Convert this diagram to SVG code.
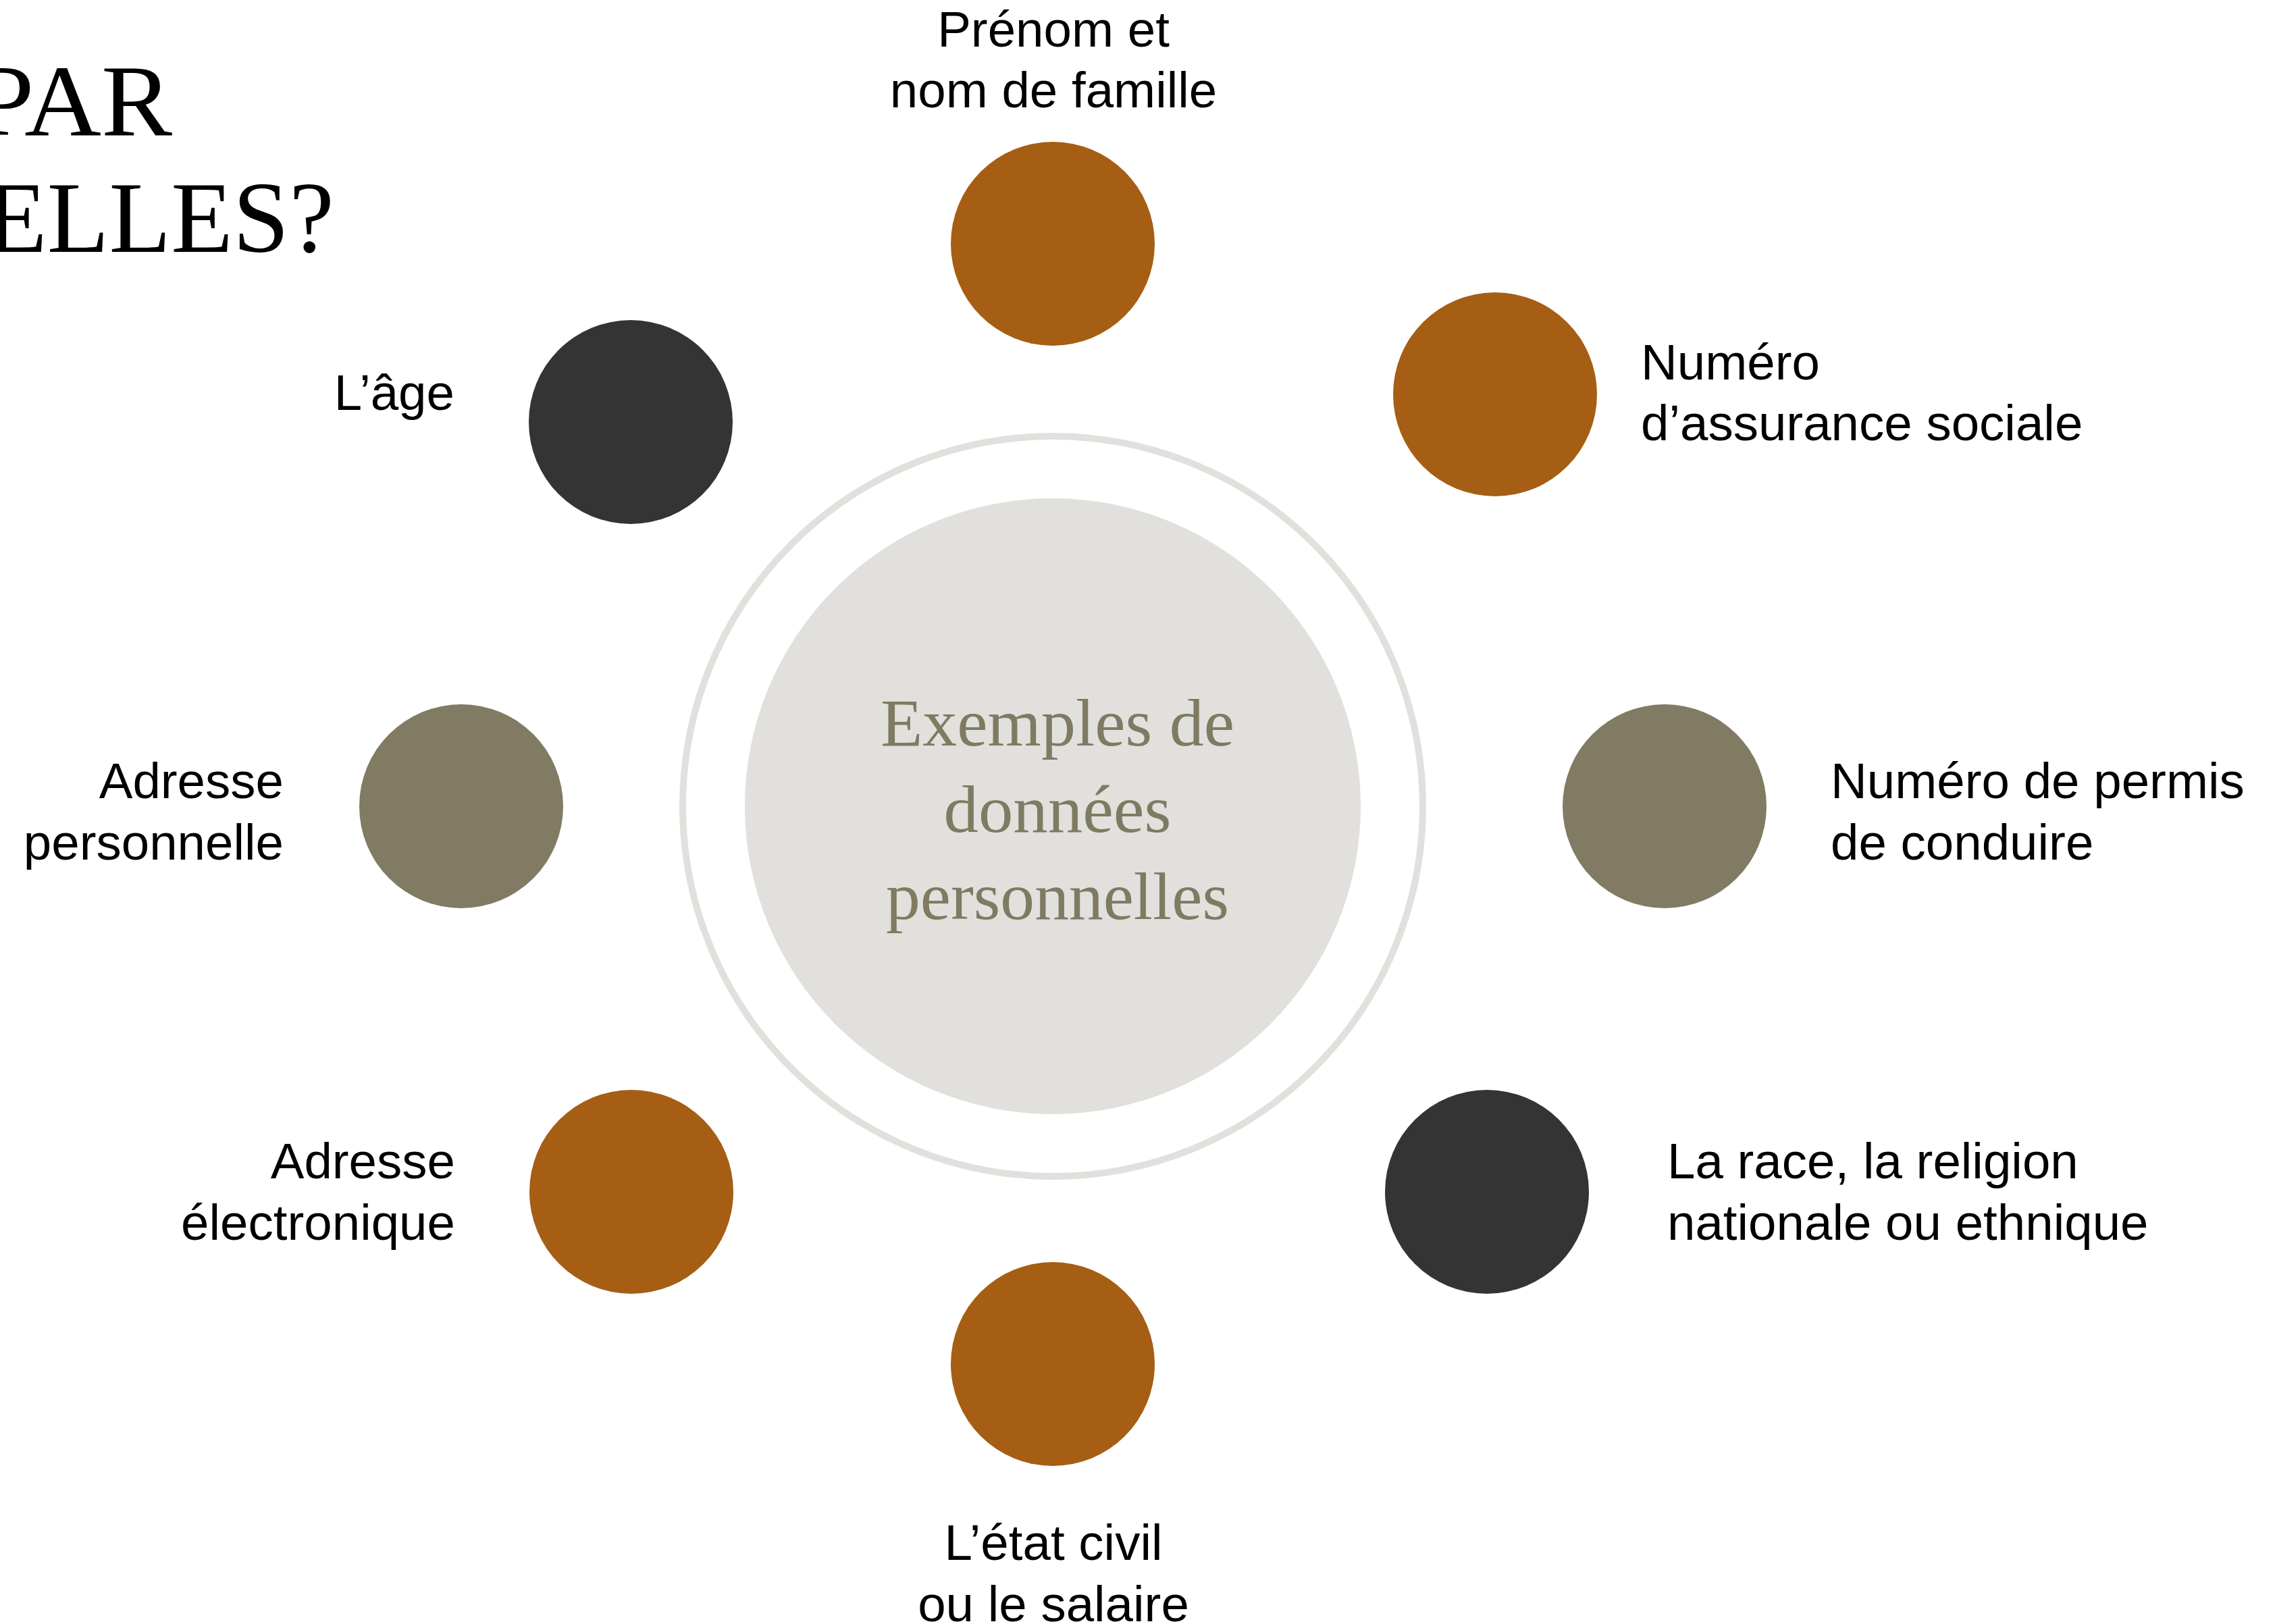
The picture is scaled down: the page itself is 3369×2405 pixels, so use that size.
<svg xmlns="http://www.w3.org/2000/svg" width="3369" height="2405" viewBox="0 0 3369 2405">
<style>
.lbl{font-family:"Liberation Sans",Arial,sans-serif;font-size:74.5px;fill:#000}
.title{font-family:"Liberation Serif","Times New Roman",serif;font-size:150px;fill:#000}
.ctr{font-family:"Liberation Serif","Times New Roman",serif;font-size:100px;fill:#7F7A62;text-anchor:middle}
.orange{fill:#A55E13}
.dark{fill:#343434}
.olive{fill:#807B62}
</style>
<rect width="3369" height="2405" fill="#FFFFFF"/>
<g id="title">
<text class="title" x="-37" y="200" textLength="292" lengthAdjust="spacingAndGlyphs">PAR</text>
<text class="title" x="-22" y="373" textLength="517" lengthAdjust="spacingAndGlyphs">ELLES?</text>
</g>
<g id="connectors"></g>
<g id="center">
<circle cx="1559" cy="1194" r="548" fill="none" stroke="#E1E0DC" stroke-width="10"/>
<circle cx="1559" cy="1194" r="456" fill="#E1E0DC"/>
<text class="ctr" x="1566" y="1104" textLength="524" lengthAdjust="spacingAndGlyphs">Exemples de</text>
<text class="ctr" x="1566" y="1232" textLength="337" lengthAdjust="spacingAndGlyphs">données</text>
<text class="ctr" x="1566" y="1361" textLength="508" lengthAdjust="spacingAndGlyphs">personnelles</text>
</g>
<g id="node-nom">
<circle class="orange" cx="1559" cy="361" r="151"/>
<text class="lbl" x="1560" y="69" text-anchor="middle">Prénom et</text>
<text class="lbl" x="1560" y="159" text-anchor="middle">nom de famille</text>
</g>
<g id="node-nas">
<circle class="orange" cx="2214" cy="584" r="151"/>
<text class="lbl" x="2430" y="562">Numéro</text>
<text class="lbl" x="2430" y="652">d’assurance sociale</text>
</g>
<g id="node-permis">
<circle class="olive" cx="2465" cy="1194" r="151"/>
<text class="lbl" x="2711" y="1182">Numéro de permis</text>
<text class="lbl" x="2711" y="1273">de conduire</text>
</g>
<g id="node-race">
<circle class="dark" cx="2202" cy="1765" r="151"/>
<text class="lbl" x="2469" y="1745">La race, la religion</text>
<text class="lbl" x="2469" y="1836">nationale ou ethnique</text>
</g>
<g id="node-etat">
<circle class="orange" cx="1559" cy="2020" r="151"/>
<text class="lbl" x="1560" y="2310" text-anchor="middle">L’état civil</text>
<text class="lbl" x="1560" y="2401" text-anchor="middle">ou le salaire</text>
</g>
<g id="node-courriel">
<circle class="orange" cx="935" cy="1765" r="151"/>
<text class="lbl" x="674" y="1745" text-anchor="end">Adresse</text>
<text class="lbl" x="674" y="1836" text-anchor="end">électronique</text>
</g>
<g id="node-adresse">
<circle class="olive" cx="683" cy="1194" r="151"/>
<text class="lbl" x="420" y="1182" text-anchor="end">Adresse</text>
<text class="lbl" x="420" y="1273" text-anchor="end">personnelle</text>
</g>
<g id="node-age">
<circle class="dark" cx="934" cy="625" r="151"/>
<text class="lbl" x="673" y="607" text-anchor="end">L’âge</text>
</g>
</svg>
